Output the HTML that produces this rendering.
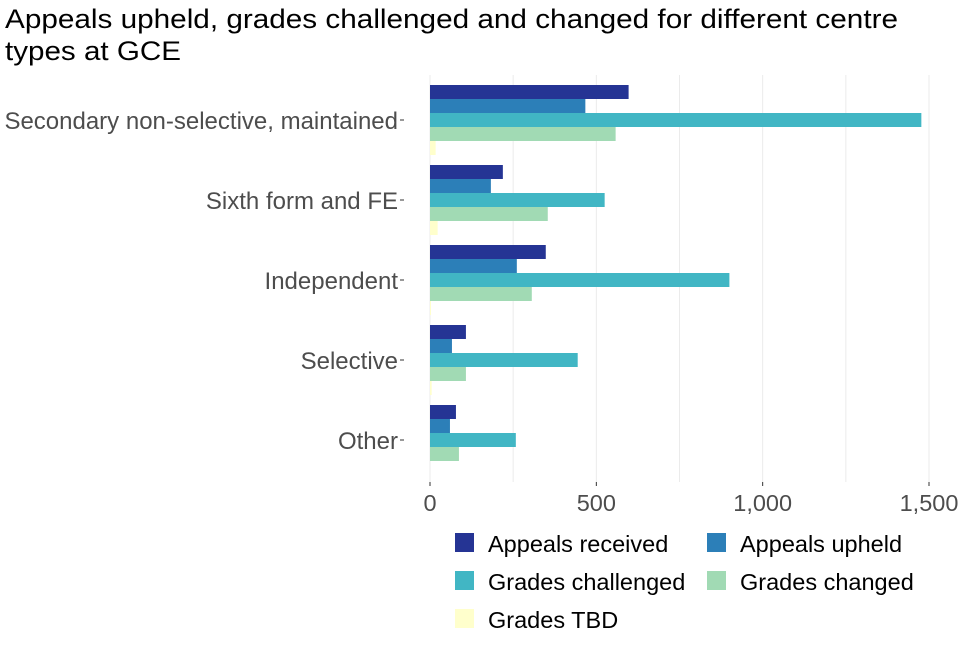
<!DOCTYPE html>
<html><head><meta charset="utf-8"><style>
body{margin:0;background:#fff;font-family:"Liberation Sans",sans-serif;}
svg text{font-family:"Liberation Sans",sans-serif;}
</style></head><body>
<svg id="chart" width="960" height="640">
<text x="5" y="28" font-size="27" textLength="893" lengthAdjust="spacingAndGlyphs" fill="#000">Appeals upheld, grades challenged and changed for different centre</text>
<text x="5" y="60" font-size="27" textLength="176" lengthAdjust="spacingAndGlyphs" fill="#000">types at GCE</text>
<g id="grid"></g><g id="bars"></g><g id="axes"></g><g id="legend"></g>
</svg>
<script>
const categories=["Secondary non-selective, maintained","Sixth form and FE","Independent","Selective","Other"];
const seriesNames=["Appeals received","Appeals upheld","Grades challenged","Grades changed","Grades TBD"];
const appealsReceived=[597,219,348,108,78];
const appealsUpheld=[467,183,261,66,60];
const gradesChallenged=[1477,525,900,444,258];
const gradesChanged=[558,354,306,108,87];
const gradesTBD=[17,23,3,5,0];
const xTicks=[0,500,1000,1500];
const xTickLabels=["0","500","1,000","1,500"];
const colors=["#253494","#2c7fb8","#41b6c4","#a1dab4","#ffffcc"];
const series=[appealsReceived,appealsUpheld,gradesChallenged,gradesChanged,gradesTBD];
const NS="http://www.w3.org/2000/svg";
const x=v=>430+v*(499/1500);
const yC=i=>120+i*80;
const bh=14;
function mk(t,a,p){const e=document.createElementNS(NS,t);for(const k in a)e.setAttribute(k,a[k]);p.appendChild(e);return e;}
const grid=document.getElementById('grid');
[0,250,500,750,1000,1250,1500].forEach(v=>{
 const l=mk('line',{x1:x(v),x2:x(v),y1:75,y2:482,stroke:'#ebebeb','stroke-width':1},grid);
 
 
});
const bars=document.getElementById('bars');
categories.forEach((c,i)=>{
 series.forEach((s,j)=>{
  const r=mk('rect',{x:x(0),y:yC(i)-35+j*bh,width:Math.max(0,x(s[i])-x(0)),height:bh,fill:colors[j]},bars);
  
  
 });
});
const axes=document.getElementById('axes');
categories.forEach((c,i)=>{
 const t=mk('text',{x:398,y:yC(i)+9,'text-anchor':'end','font-size':24,fill:'#4d4d4d'},axes);
 t.textContent=c;
 
 
 mk('line',{x1:400,x2:404,y1:yC(i),y2:yC(i),stroke:'#333'},axes);
});
xTicks.forEach((v,i)=>{
 mk('line',{x1:x(v),x2:x(v),y1:482,y2:486,stroke:'#333'},axes);
 const t=mk('text',{x:x(v),y:511,'text-anchor':'middle','font-size':23.5,fill:'#4d4d4d'},axes);
 t.textContent=xTickLabels[i];
 
 
});
const lg=document.getElementById('legend');
const pos=[[455,533],[707,533],[455,571],[707,571],[455,609]];
seriesNames.forEach((n,j)=>{
 const r=mk('rect',{x:pos[j][0],y:pos[j][1],width:19,height:19,fill:colors[j]},lg);
 
 
 const t=mk('text',{x:pos[j][0]+33,y:pos[j][1]+19,'font-size':23.5,fill:'#000'},lg);
 t.textContent=n;
 
 
});
</script>
</body></html>
